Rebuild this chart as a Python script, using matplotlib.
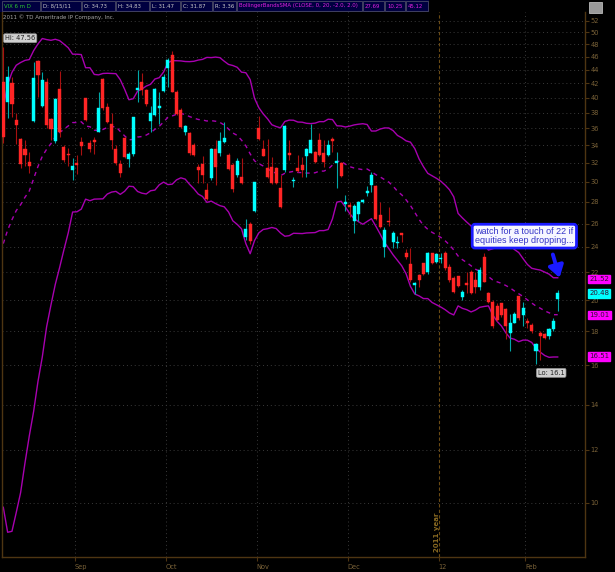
import numpy as np
import matplotlib.pyplot as plt
from matplotlib.patches import Rectangle
from matplotlib.transforms import blended_transform_factory

# VIX daily candles, 8/9/11 .. 2/10/12 (one row per trading day)
opens = [42.2, 39.4, 42.1, 37.1, 34.73, 33.5, 32.1, 36.9, 45.3, 38.9,
         42.2, 37.2, 34.5, 41.2, 33.8, 33.0, 31.2, 32.0, 34.4, 39.9,
         34.3, 34.5, 35.6, 42.6, 38.7, 36.6, 33.6, 31.9, 34.8, 32.4,
         33.0, 41.1, 42.2, 41.1, 36.9, 37.7, 38.6, 40.9, 44.3, 46.3,
         40.8, 38.4, 35.5, 35.4, 34.0, 31.5, 31.9, 29.2, 30.4, 33.5,
         33.1, 34.4, 32.9, 31.8, 30.7, 30.5, 24.8, 26.0, 27.1, 36.0,
         33.6, 31.4, 31.5, 31.4, 29.4, 31.2, 33.1, 30.1, 31.4, 31.8,
         32.7, 33.1, 33.2, 34.6, 33.1, 32.9, 34.7, 32.0, 32.0, 27.8,
         27.7, 26.2, 26.9, 28.0, 28.9, 29.7, 29.6, 26.8, 24.0, 26.2,
         24.4, 24.3, 25.2, 23.5, 22.6, 21.1, 21.8, 22.7, 22.0, 23.5,
         22.8, 23.0, 23.5, 22.4, 21.6, 21.7, 20.2, 21.2, 22.0, 21.4,
         20.9, 23.2, 20.5, 19.9, 19.6, 19.8, 19.4, 17.9, 18.5, 20.3,
         19.0, 18.6, 18.4, 16.8, 17.9, 17.8, 17.7, 18.1, 20.1]
highs = [47.56, 44.5, 42.9, 38.0, 34.83, 34.6, 33.2, 45.2, 45.5, 43.7,
         42.7, 37.3, 40.0, 43.8, 34.0, 33.7, 32.5, 32.9, 34.9, 40.0,
         34.6, 34.9, 40.8, 42.8, 39.3, 38.0, 34.0, 32.3, 35.0, 33.2,
         37.4, 44.0, 43.5, 41.2, 38.9, 41.4, 40.8, 43.3, 45.8, 46.9,
         41.1, 38.6, 36.4, 35.6, 34.2, 31.9, 32.8, 29.9, 33.7, 34.6,
         35.5, 36.8, 33.1, 32.0, 32.5, 32.5, 26.4, 26.1, 30.0, 37.6,
         34.6, 34.7, 32.6, 31.5, 30.7, 36.4, 34.6, 30.5, 32.9, 32.6,
         33.7, 36.6, 33.3, 35.4, 34.6, 34.6, 34.9, 33.2, 32.1, 28.7,
         28.0, 27.8, 28.1, 28.3, 29.6, 31.0, 29.7, 28.0, 25.7, 27.5,
         25.3, 24.9, 25.2, 23.8, 23.9, 21.3, 21.9, 22.7, 23.6, 23.5,
         23.5, 23.5, 23.7, 22.6, 21.7, 21.7, 20.7, 22.0, 22.2, 22.0,
         22.4, 23.5, 20.6, 20.0, 19.8, 19.8, 19.5, 19.1, 19.2, 20.3,
         19.9, 18.8, 18.5, 17.3, 18.0, 17.9, 18.2, 18.8, 20.7]
lows = [34.3, 37.3, 37.4, 34.1, 31.47, 31.6, 30.9, 36.8, 40.1, 38.7,
        36.0, 34.6, 34.3, 35.0, 32.1, 31.6, 30.2, 30.8, 32.9, 36.9,
        33.2, 33.0, 35.5, 38.4, 36.7, 33.5, 31.8, 30.5, 32.5, 31.5,
        32.7, 39.4, 40.4, 38.9, 35.5, 37.6, 36.6, 40.7, 41.5, 40.7,
        37.7, 36.1, 35.2, 32.9, 32.7, 29.9, 29.9, 28.2, 30.2, 29.7,
        32.7, 34.3, 31.2, 29.0, 30.5, 29.8, 24.6, 24.2, 27.0, 34.6,
        32.7, 30.4, 29.8, 29.8, 27.4, 31.0, 32.3, 29.5, 31.0, 30.5,
        30.5, 33.1, 32.0, 32.8, 31.5, 32.8, 33.2, 29.4, 30.5, 27.1,
        26.6, 25.2, 26.2, 27.9, 28.6, 29.0, 26.3, 25.6, 23.2, 25.8,
        23.9, 23.9, 24.4, 23.0, 21.3, 20.4, 20.9, 21.8, 21.9, 22.6,
        22.7, 22.7, 22.2, 21.3, 20.5, 20.9, 20.0, 20.5, 20.4, 20.5,
        20.7, 21.3, 19.8, 18.2, 18.6, 18.9, 17.5, 16.8, 18.5, 18.7,
        18.3, 18.2, 17.9, 16.1, 16.3, 17.5, 17.5, 18.0, 19.3]
closes = [35.0, 42.9, 39.1, 36.4, 31.87, 32.9, 31.6, 42.7, 43.2, 42.5,
          36.4, 35.9, 39.8, 35.6, 32.3, 32.9, 31.7, 31.8, 33.9, 37.1,
          33.5, 34.4, 38.6, 38.6, 36.8, 34.6, 32.0, 30.9, 32.6, 33.0,
          37.4, 41.4, 41.1, 39.1, 38.0, 41.2, 38.9, 42.9, 45.5, 40.8,
          37.8, 36.2, 36.3, 33.1, 32.9, 31.2, 30.7, 28.3, 33.5, 31.5,
          34.5, 34.8, 31.3, 29.3, 32.2, 29.9, 25.5, 24.5, 30.0, 34.7,
          32.7, 30.5, 29.9, 29.9, 27.5, 36.3, 32.9, 30.2, 31.1, 31.2,
          33.6, 34.6, 32.1, 32.9, 32.1, 34.0, 34.5, 32.2, 30.6, 28.0,
          27.5, 27.6, 28.0, 28.2, 29.0, 30.7, 26.4, 25.7, 25.4, 26.1,
          25.2, 24.4, 25.0, 23.2, 21.4, 21.2, 21.4, 21.9, 23.5, 22.7,
          23.4, 23.1, 22.3, 21.4, 20.6, 21.0, 20.6, 21.1, 20.5, 20.9,
          22.2, 21.3, 19.9, 18.3, 18.7, 19.0, 18.3, 18.5, 19.1, 18.8,
          19.5, 18.5, 18.0, 17.2, 17.7, 17.6, 18.1, 18.6, 20.48]
# closes before the first visible bar (7/13/11 .. 8/8/11), needed by the 20-day SMA
prior_close = [19.91, 20.80, 19.53, 20.95, 18.65, 19.21, 17.67, 17.52, 20.23, 20.23,
               22.98, 23.74, 25.25, 23.99, 24.79, 23.38, 31.66, 32.00, 48.00]

month_pos = [16.5, 37.5, 58.5, 79.5, 100.5, 120.5]
month_lab = ['Sep', 'Oct', 'Nov', 'Dec', '12', 'Feb']
yticks = list(range(10, 53, 2))

header = [('VIX 6 m D', 2, 40, '#2ec82e'), ('D: 8/15/11', 41, 81, '#c8c8c8'),
          ('O: 34.73', 82, 115, '#c8c8c8'), ('H: 34.83', 116, 149, '#c8c8c8'),
          ('L: 31.47', 150, 180, '#c8c8c8'), ('C: 31.87', 181, 212, '#c8c8c8'),
          ('R: 3.36', 213, 236, '#c8c8c8'),
          ('BollingerBandsSMA (CLOSE, 0, 20, -2.0, 2.0)', 237, 362, '#e020e0'),
          ('27.69', 363, 384, '#e020e0'), ('10.25', 385, 405, '#e020e0'),
          ('45.12', 406, 428, '#e020e0')]
last_vals = [21.52, 20.48, 19.01, 16.51]
last_cols = ['#ff00ff', '#00ffff', '#ff00ff', '#ff00ff']

o = np.array(opens); h = np.array(highs); l = np.array(lows); c = np.array(closes)
x = np.arange(len(c))

# bollinger bands SMA(20), +-2 std
allc = np.concatenate([prior_close, c])
mid = np.array([allc[i - 19:i + 1].mean() for i in range(19, len(allc))])
sd = np.array([allc[i - 19:i + 1].std() for i in range(19, len(allc))])
upper = mid + 2 * sd
lower = mid - 2 * sd

W, H = 615, 572
fig = plt.figure(figsize=(W / 100, H / 100), dpi=100, facecolor='black')
ax = fig.add_axes([2 / W, 15 / H, 583 / W, 545 / H])
ax.set_facecolor('black')
ax.set_yscale('log')
ax.set_ylim(8.31, 53.6)
ax.set_xlim(-0.3, 134.3)

brown = '#4e3512'
lab = '#7a6238'
for s in ['left', 'bottom', 'right']:
    ax.spines[s].set_color(brown)
    ax.spines[s].set_linewidth(1)
ax.spines['top'].set_visible(False)

ax.yaxis.tick_right()
ax.set_yticks(yticks)
ax.set_yticklabels([str(t) for t in yticks])
ax.yaxis.set_minor_locator(plt.NullLocator())
ax.tick_params(axis='y', colors=brown, labelcolor=lab, labelsize=4.8, length=3, pad=1)
ax.set_xticks(month_pos)
ax.set_xticklabels(month_lab)
ax.tick_params(axis='x', colors=brown, labelcolor=lab, labelsize=4.8, length=3, pad=2)
for t in ax.get_xticklabels():
    t.set_ha('left')

for t in yticks:
    ax.axhline(t, color='#3a3a3a', lw=0.7, ls=(0, (1, 3)), zorder=0)
for p in month_pos:
    if p == 100.5:
        ax.axvline(p, color='#6a4a14', lw=0.8, ls=(0, (3, 2)), zorder=0)
    else:
        ax.axvline(p, color='#3a3a3a', lw=0.7, ls=(0, (1, 3)), zorder=0)
ax.text(100.1, 8.45, '2011 year', rotation=90, color='#8a6a22', fontsize=5.0,
        ha='center', va='bottom', fontweight='bold')

# bands
band = '#a800b0'
ax.plot(x, upper, color=band, lw=1.0, zorder=2)
ax.plot(x, lower, color=band, lw=1.0, zorder=2)
ax.plot(x, mid, color=band, lw=1.0, ls=(0, (3, 3)), zorder=2)

# candles
upc = c >= o
body_col = np.where(upc, '#00ffff', '#ff2525')
wick_col = np.where(upc, '#00a8a8', '#a81010')
ax.vlines(x, l, h, colors=wick_col, lw=0.8, zorder=3)
bot = np.minimum(o, c)
hgt = np.maximum(np.abs(c - o), bot * 0.004)
ax.bar(x, hgt, bottom=bot, width=0.72, color=body_col, edgecolor=body_col,
       lw=0.3, zorder=4)

# right side value tags
tr = blended_transform_factory(ax.transAxes, ax.transData)
for v, col in zip(last_vals, last_cols):
    ax.text(1.007, v, '%.2f' % v, transform=tr, fontsize=5.0, color='#301030',
            ha='left', va='center', clip_on=False,
            bbox=dict(boxstyle='square,pad=0.18', fc=col, ec=col))

# hi / lo tags
ax.text(3.9, 49.0, 'Hi: 47.56', fontsize=4.8, color='#202020', ha='center',
        va='center', bbox=dict(boxstyle='round,pad=0.22', fc='#cfcfcf', ec='#909090', lw=0.5))
ax.text(126.5, 15.6, 'Lo: 16.1', fontsize=4.8, color='#202020', ha='center',
        va='center', bbox=dict(boxstyle='round,pad=0.22', fc='#cfcfcf', ec='#909090', lw=0.5))

# note + arrow
ax.text(120.3, 24.9, 'watch for a touch of 22 if\nequities keep dropping...',
        fontsize=6.5, family='Liberation Sans', color='#3434c8', ha='center',
        va='center', linespacing=1.05, zorder=6,
        bbox=dict(boxstyle='round,pad=0.3', fc='#f6f6ff', ec='#1a1aff', lw=2.0))
ax.annotate('', xy=(128.6, 21.4), xytext=(126.7, 23.6), zorder=6,
            arrowprops=dict(arrowstyle='-|>,head_width=0.45,head_length=0.7',
                            color='#1a1aff', lw=2.8))

# header bar
fig.patches.append(Rectangle((0, 1 - 12 / H), 429 / W, 12 / H, transform=fig.transFigure,
                             fc='#000040', ec='none'))
for txt, x0, x1, col in header:
    fig.patches.append(Rectangle((x0 / W, 1 - 11 / H), (x1 - x0) / W, 10 / H,
                                 transform=fig.transFigure, fc='none', ec='#4a4a66', lw=0.6))
    fig.text((x0 + 2) / W, 1 - 6 / H, txt, color=col, fontsize=3.85, va='center', ha='left')
fig.patches.append(Rectangle((589 / W, 1 - 13 / H), 13 / W, 11 / H, transform=fig.transFigure,
                             fc='#9a9a9a', ec='#d0d0d0', lw=0.5))
fig.text(3 / W, 1 - 17 / H, '2011 \u00a9 TD Ameritrade IP Company, Inc.', color='#a8a8a8',
         fontsize=4.0, va='center', ha='left')

fig.savefig('out.png', dpi=100, facecolor='black')
